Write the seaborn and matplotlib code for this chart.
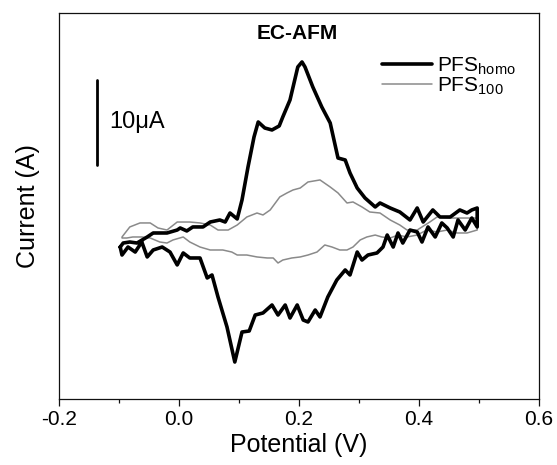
import numpy as np
import pandas as pd
import matplotlib
matplotlib.use("Agg")
import matplotlib.pyplot as plt
from matplotlib.ticker import MultipleLocator, NullLocator
from matplotlib.lines import Line2D
import seaborn as sns

# ---- data (potential in V, current in µA, arbitrary offset) ----
homo_fwd_v = [-0.098, -0.093, -0.082, -0.070, -0.053, -0.043, -0.032, -0.020, -0.003, 0.002,
              0.013, 0.023, 0.035, 0.040, 0.052, 0.068, 0.077, 0.085, 0.097, 0.105,
              0.115, 0.125, 0.132, 0.143, 0.155, 0.167, 0.173, 0.185, 0.198, 0.205,
              0.210, 0.223, 0.238, 0.252, 0.265, 0.277, 0.285, 0.297, 0.310, 0.327,
              0.335, 0.352, 0.368, 0.385, 0.397, 0.407, 0.423, 0.435, 0.452, 0.468,
              0.480, 0.488, 0.497]
homo_fwd_i = [0.35, 0.82, 0.94, 0.82, 1.53, 2.00, 2.00, 2.00, 2.35, 2.59,
              2.24, 2.71, 2.71, 2.71, 3.29, 3.53, 3.29, 4.35, 3.65, 5.88,
              9.76, 13.29, 15.06, 14.35, 14.12, 14.59, 15.65, 17.65, 21.53, 22.12,
              21.53, 19.18, 16.82, 14.94, 10.82, 10.59, 9.06, 7.29, 6.12, 5.06,
              5.53, 4.94, 4.47, 3.53, 4.94, 3.29, 4.71, 3.88, 3.88, 4.71,
              4.35, 4.71, 4.94]
homo_rev_v = [0.497, 0.488, 0.477, 0.465, 0.457, 0.447, 0.438, 0.427, 0.415, 0.405,
              0.397, 0.385, 0.373, 0.365, 0.357, 0.347, 0.340, 0.330, 0.315, 0.305,
              0.297, 0.285, 0.277, 0.263, 0.248, 0.235, 0.227, 0.215, 0.207, 0.197,
              0.185, 0.177, 0.165, 0.155, 0.140, 0.127, 0.117, 0.105, 0.093, 0.080,
              0.065, 0.055, 0.047, 0.035, 0.018, 0.007, -0.003, -0.015, -0.028, -0.043,
              -0.053, -0.062, -0.073, -0.085, -0.095, -0.098]
homo_rev_i = [2.71, 3.76, 2.35, 3.53, 1.53, 2.59, 3.18, 1.53, 2.71, 0.94,
              2.12, 2.35, 0.82, 2.00, 0.35, 1.76, 0.35, -0.35, -0.59, -1.18,
              -0.24, -2.94, -2.35, -3.53, -5.53, -7.88, -7.06, -8.47, -8.24, -6.47,
              -8.00, -6.47, -7.65, -6.47, -7.41, -7.65, -9.53, -9.65, -13.18, -9.06,
              -5.53, -2.94, -3.29, -0.94, -0.94, -0.35, -1.76, -0.24, 0.35, 0.00,
              -0.82, 0.94, -0.24, 0.35, -0.59, 0.35]

p100_fwd_v = [-0.095, -0.082, -0.065, -0.048, -0.035, -0.020, -0.003, 0.018, 0.035, 0.052,
              0.065, 0.082, 0.097, 0.113, 0.130, 0.140, 0.152, 0.168, 0.180, 0.190,
              0.202, 0.215, 0.235, 0.252, 0.265, 0.280, 0.290, 0.305, 0.318, 0.335,
              0.352, 0.368, 0.380, 0.397, 0.418, 0.430, 0.452, 0.473, 0.497]
p100_fwd_i = [1.53, 2.71, 3.18, 3.18, 2.59, 2.35, 3.29, 3.29, 3.18, 2.94,
              2.35, 2.35, 2.94, 3.88, 4.35, 4.12, 4.71, 6.24, 6.71, 7.06,
              7.29, 8.00, 8.24, 7.41, 6.71, 5.53, 5.65, 5.06, 4.47, 4.35,
              3.53, 2.94, 2.35, 2.35, 3.29, 3.88, 3.76, 3.76, 3.76]
p100_rev_v = [0.497, 0.480, 0.463, 0.447, 0.430, 0.413, 0.397, 0.380, 0.365, 0.352,
              0.338, 0.327, 0.313, 0.302, 0.290, 0.280, 0.268, 0.255, 0.243, 0.230,
              0.215, 0.202, 0.188, 0.173, 0.165, 0.157, 0.147, 0.130, 0.113, 0.097,
              0.088, 0.073, 0.052, 0.035, 0.018, 0.007, -0.010, -0.020, -0.032, -0.048,
              -0.062, -0.077, -0.087, -0.095]
p100_rev_i = [2.35, 2.00, 2.00, 2.35, 2.12, 2.35, 1.76, 1.53, 1.76, 1.41,
              1.53, 1.76, 1.53, 1.18, 0.35, 0.00, 0.00, 0.35, 0.59, -0.24,
              -0.59, -0.82, -0.94, -1.18, -1.53, -0.94, -0.94, -0.82, -0.59, -0.59,
              -0.24, 0.00, 0.00, 0.35, 0.94, 1.53, 1.18, 0.82, 0.94, 1.41,
              1.53, 1.53, 1.41, 1.41]

series_labels = [r"PFS$_{\mathrm{homo}}$", r"PFS$_{\mathrm{100}}$"]
x_ticks = [-0.2, 0.0, 0.2, 0.4, 0.6]
scale_bar_ua = 10

# ---- style ----
sns.set_style("white")
plt.rcParams["font.family"] = ["Liberation Sans", "DejaVu Sans"]
plt.rcParams["mathtext.fontset"] = "custom"
plt.rcParams["mathtext.rm"] = "Liberation Sans"
plt.rcParams["mathtext.it"] = "Liberation Sans:italic"
plt.rcParams["mathtext.bf"] = "Liberation Sans:bold"
plt.rcParams["text.color"] = "black"
plt.rcParams["axes.labelcolor"] = "black"
plt.rcParams["xtick.color"] = "black"

fig = plt.figure(figsize=(5.57, 4.65), dpi=100)
ax = fig.add_axes([59 / 557, 1 - 399 / 465, 480 / 557, 386 / 465])

df_homo = pd.DataFrame({"V": homo_fwd_v + homo_rev_v, "I": homo_fwd_i + homo_rev_i})
df_100 = pd.DataFrame({"V": p100_fwd_v + p100_rev_v, "I": p100_fwd_i + p100_rev_i})

sns.lineplot(data=df_100, x="V", y="I", sort=False, estimator=None, ax=ax,
             color="#8a8a8a", linewidth=1.1)
sns.lineplot(data=df_homo, x="V", y="I", sort=False, estimator=None, ax=ax,
             color="black", linewidth=2.6)

ax.set_xlim(-0.2, 0.6)
ax.set_ylim(-17.53, 27.88)
ax.set_xticks(x_ticks)
ax.set_xticklabels([f"{t:.1f}" for t in x_ticks])
ax.xaxis.set_minor_locator(MultipleLocator(0.1))
ax.yaxis.set_major_locator(NullLocator())
ax.tick_params(axis="x", which="major", direction="out", length=5, width=0.9,
               labelsize=15, pad=3, bottom=True, colors="#111111", labelcolor="black")
ax.tick_params(axis="x", which="minor", direction="out", length=3, width=0.9, bottom=True,
               colors="#111111")
for s in ax.spines.values():
    s.set_linewidth(0.9)
    s.set_color("#111111")

ax.set_xlabel("Potential (V)", fontsize=18, labelpad=3, color="black")
ax.set_ylabel("Current (A)", fontsize=18, labelpad=14, color="black")

# scale bar
ax.plot([-0.137, -0.137], [10, 10 + scale_bar_ua], color="black", linewidth=2.0)
ax.text(-0.117, 15.0, "10\u03bcA", fontsize=17, va="center", ha="left", color="black")

# title inside
ax.text(0.496, 0.948, "EC-AFM", transform=ax.transAxes, fontsize=15,
        fontweight="bold", ha="center", va="center", color="black")

handles = [Line2D([], [], color="black", linewidth=2.6),
           Line2D([], [], color="#8a8a8a", linewidth=1.1)]
leg = ax.legend(handles, series_labels, loc="upper left", bbox_to_anchor=(0.672, 0.89),
                frameon=False, fontsize=15, handlelength=2.4, handletextpad=0.25,
                labelspacing=-0.05, borderpad=0, borderaxespad=0)
for t in leg.get_texts():
    t.set_color("black")

fig.savefig("out.png", dpi=100)
